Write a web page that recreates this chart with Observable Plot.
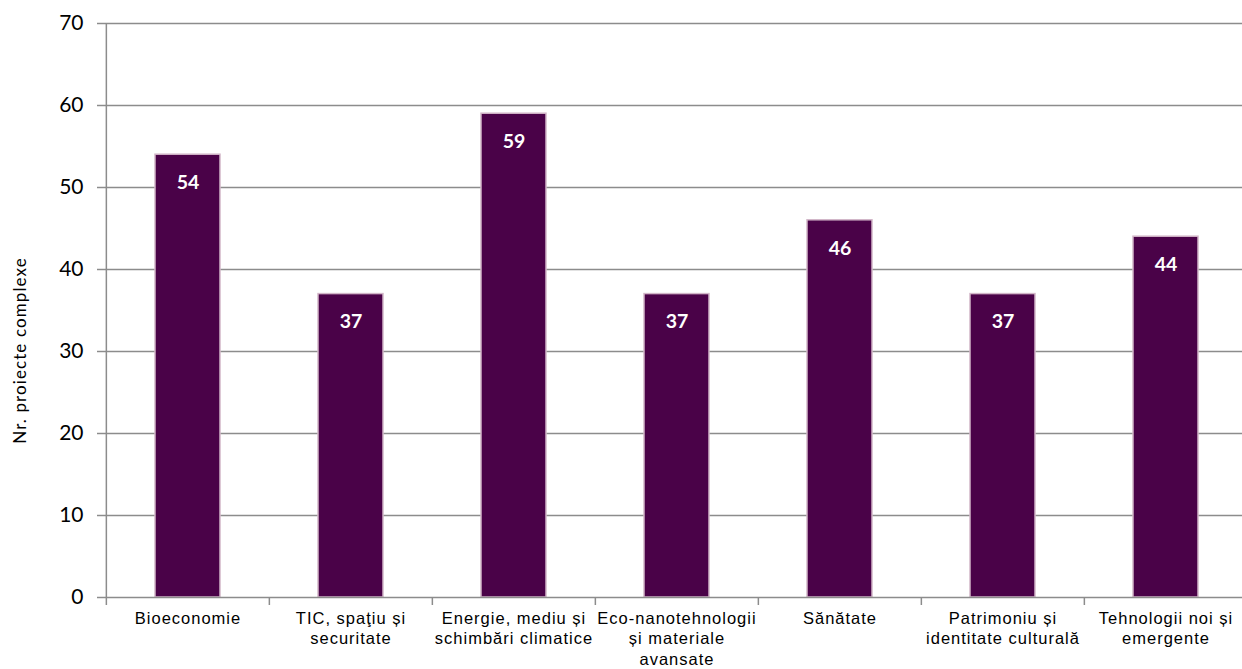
<!DOCTYPE html>
<html><head><meta charset="utf-8">
<script src="https://cdn.jsdelivr.net/npm/d3@7"></script>
<script src="https://cdn.jsdelivr.net/npm/@observablehq/plot@0.6"></script>
<style>
body{margin:0;background:#fff}
.xlab text{letter-spacing:1px}
.ylab text{letter-spacing:1.1px}
</style>
</head><body><div id="chart"></div>
<script>
const categories = ["Bioeconomie","TIC, spaţiu și\nsecuritate","Energie, mediu și\nschimbări climatice","Eco-nanotehnologii\nși materiale\navansate","Sănătate","Patrimoniu și\nidentitate culturală","Tehnologii noi și\nemergente"];
const values = [54,37,59,37,46,37,44];
const yTicks = [0,10,20,30,40,50,60,70];
const yLabel = "Nr. proiecte complexe";

const data = categories.map((c,i)=>({cat:c, v:values[i]}));
const xRange = [105, 1248];
const xOpts = {type:"band", domain:categories, range:xRange, paddingInner:0.6, paddingOuter:0.3};
const step = Plot.scale({x:xOpts}).step;
const gray = "#8c8c8c";

const plot = Plot.plot({
  width:1242, height:669,
  marginLeft:105, marginRight:0, marginTop:23, marginBottom:72,
  style:{background:"#fff", overflow:"visible"},
  x:xOpts,
  y:{domain:[0,70]},
  marks:[
    Plot.ruleY(yTicks.filter(t=>t>0), {stroke:gray, strokeWidth:1.3}),
    Plot.barY(data, {x:"cat", y:"v", fill:"#4a0248", stroke:"#d2b6c8", strokeWidth:1.5}),
    Plot.text(data, {x:"cat", y:"v", text:d=>String(d.v), dy:28, fill:"#fff", fontWeight:"bold", fontSize:19.5, fontFamily:"Lato"}),
    Plot.ruleY([0], {stroke:gray, strokeWidth:1.5}),
    Plot.axisX({tickSize:0, tickPadding:12, fontSize:16.5, fontFamily:"Liberation Sans, Arial", fill:"#000", lineHeight:1.24, label:null, className:"xlab"}),
    Plot.axisY({ticks:yTicks, tickSize:8, tickPadding:14, stroke:gray, strokeWidth:1.5, fontSize:21, fontFamily:"Lato", fill:"#000", label:null}),
    Plot.ruleX([categories[0]], {dx:-step/2, y1:0, y2:70, stroke:gray, strokeWidth:1.5}),
    Plot.ruleX(categories, {dx:-step/2, y1:0, y2:0, stroke:gray, strokeWidth:1.5, insetBottom:-8}),
    Plot.text([yLabel], {frameAnchor:"left", textAnchor:"middle", dx:-85, dy:40, rotate:-90, text:d=>d, fontSize:17, fontFamily:"Lato", fill:"#000", className:"ylab"})
  ]
});
document.getElementById("chart").append(plot);
</script></body></html>
